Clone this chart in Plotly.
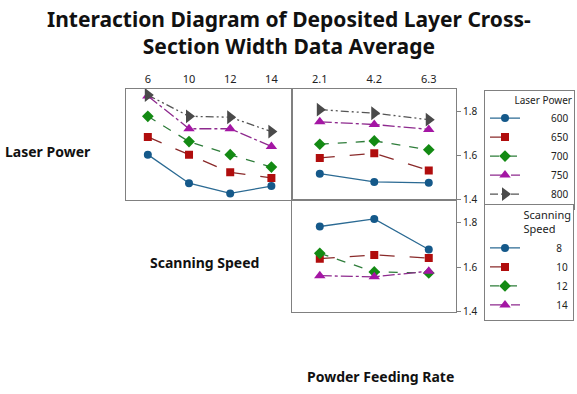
import plotly.graph_objects as go

# ---- data ----
speed_ticks = ["6", "10", "12", "14"]
feed_ticks = ["2.1", "4.2", "6.3"]

laser_powers = ["600", "650", "700", "750", "800"]
lp_vs_speed = {
    "600": [1.603, 1.474, 1.428, 1.461],
    "650": [1.683, 1.603, 1.523, 1.498],
    "700": [1.776, 1.662, 1.603, 1.547],
    "750": [1.868, 1.720, 1.720, 1.640],
    "800": [1.872, 1.776, 1.772, 1.707],
}
lp_vs_feed = {
    "600": [1.517, 1.480, 1.476],
    "650": [1.588, 1.609, 1.532],
    "700": [1.650, 1.665, 1.625],
    "750": [1.751, 1.739, 1.717],
    "800": [1.806, 1.790, 1.761],
}
scan_speeds = ["8", "10", "12", "14"]
ss_vs_feed = {
    "8": [1.782, 1.816, 1.679],
    "10": [1.638, 1.655, 1.641],
    "12": [1.662, 1.579, 1.574],
    "14": [1.562, 1.557, 1.582],
}

# ---- styles ----
styles = [
    dict(color="#15598a", lcolor="#2b6a93", symbol="circle", size=8, dash="solid"),
    dict(color="#b00d0d", lcolor="#8a2a2a", symbol="square", size=8, dash="longdash"),
    dict(color="#138a13", lcolor="#2e7d3a", symbol="diamond", size=9, dash="dash"),
    dict(color="#a416a4", lcolor="#8e2a8e", symbol="triangle-up", size=10, dash="12px,3px,3px,3px"),
    dict(color="#4a4a4a", lcolor="#555555", symbol="triangle-right", size=12, dash="8px,3px,2px,3px,2px,3px"),
]

fig = go.Figure()
nb = "\u00a0"
for i, lp in enumerate(laser_powers):
    s = styles[i]
    fig.add_trace(go.Scatter(
        x=speed_ticks, y=lp_vs_speed[lp], mode="lines+markers",
        name=nb * 10 + lp, legend="legend",
        line=dict(color=s["lcolor"], width=1.3, dash=s["dash"]),
        marker=dict(color=s["color"], symbol=s["symbol"], size=s["size"]),
        xaxis="x", yaxis="y", showlegend=True))
    fig.add_trace(go.Scatter(
        x=feed_ticks, y=lp_vs_feed[lp], mode="lines+markers",
        name=lp, showlegend=False,
        line=dict(color=s["lcolor"], width=1.3, dash=s["dash"]),
        marker=dict(color=s["color"], symbol=s["symbol"], size=s["size"]),
        xaxis="x2", yaxis="y2"))
for i, sp in enumerate(scan_speeds):
    s = styles[i]
    fig.add_trace(go.Scatter(
        x=feed_ticks, y=ss_vs_feed[sp], mode="lines+markers",
        name=nb * 12 + sp, legend="legend2",
        line=dict(color=s["lcolor"], width=1.3, dash=s["dash"]),
        marker=dict(color=s["color"], symbol=s["symbol"], size=s["size"]),
        xaxis="x3", yaxis="y3", showlegend=True))

W, H = 577, 394
def px(x): return x / W
def py(y): return 1 - y / H

yr = [1.3987, 1.901]
frame = dict(showline=True, mirror=True, linecolor="#808080", linewidth=1,
             showgrid=False, zeroline=False)
tickfont = dict(family="Noto Sans", size=11, color="#222222")
rtickfont = dict(family="Noto Sans", size=10, color="#222222")
lblfont = dict(family="Noto Sans", size=14, color="#111111", weight="bold")

fig.update_layout(
    width=W, height=H, margin=dict(l=0, r=0, t=0, b=0),
    paper_bgcolor="white", plot_bgcolor="white",
    font=dict(family="Noto Sans", color="#222222"),
    xaxis=dict(domain=[px(126), px(292)], type="category", range=[-0.53, 3.5],
               side="top", anchor="y", tickfont=tickfont, ticks="", **frame),
    yaxis=dict(domain=[py(203), py(90)], range=yr, showticklabels=False,
               ticks="", anchor="x", **frame),
    xaxis2=dict(domain=[px(292), px(456)], type="category", range=[-0.51, 2.5],
                side="top", anchor="y2", tickfont=tickfont, ticks="", **frame),
    yaxis2=dict(domain=[py(203), py(90)], range=yr, side="right", anchor="x2",
                tickvals=[1.4, 1.6, 1.8], ticktext=["1.4", "1.6", "1.8"],
                ticks="outside", ticklen=4, tickcolor="#808080",
                tickfont=rtickfont, **frame),
    xaxis3=dict(domain=[px(292), px(456)], type="category", range=[-0.51, 2.5],
                anchor="y3", showticklabels=False, ticks="", **frame),
    yaxis3=dict(domain=[py(317), py(203)], range=yr, side="right", anchor="x3",
                tickvals=[1.4, 1.6, 1.8], ticktext=["1.4", "1.6", "1.8"],
                ticks="outside", ticklen=4, tickcolor="#808080",
                tickfont=rtickfont, **frame),
    legend=dict(x=px(484), y=py(91), xanchor="left", yanchor="top",
                bordercolor="#808080", borderwidth=1, bgcolor="white",
                font=dict(family="Noto Sans", size=10, color="#222222"),
                title=dict(text="Laser Power", side="top right",
                           font=dict(family="Noto Sans", size=10)),
                tracegroupgap=0, itemwidth=30),
    legend2=dict(x=px(484), y=py(207), xanchor="left", yanchor="top",
                 bordercolor="#808080", borderwidth=1, bgcolor="white",
                 font=dict(family="Noto Sans", size=10, color="#222222"),
                 title=dict(text="Scanning<br>Speed", side="top right",
                            font=dict(family="Noto Sans", size=11)),
                 tracegroupgap=0, itemwidth=30),
    annotations=[
        dict(text="Interaction Diagram of Deposited Layer Cross-<br>Section Width Data Average",
             x=0.5, y=py(33), xref="paper", yref="paper", showarrow=False,
             xanchor="center", yanchor="middle",
             font=dict(family="Noto Sans", size=21, color="#111111", weight="bold")),
        dict(text="Laser Power", x=px(48), y=py(154), xref="paper", yref="paper",
             xanchor="center", yanchor="middle", showarrow=False, font=lblfont),
        dict(text="Scanning Speed", x=px(204), y=py(267), xref="paper", yref="paper",
             xanchor="center", yanchor="middle", showarrow=False, font=lblfont),
        dict(text="Powder Feeding Rate", x=px(380), y=py(382), xref="paper", yref="paper",
             xanchor="center", yanchor="middle", showarrow=False, font=lblfont),
    ],
)

fig.write_html("out.html", config={"displayModeBar": False},
               post_script="document.body.style.margin='0';document.body.style.overflow='hidden';")
